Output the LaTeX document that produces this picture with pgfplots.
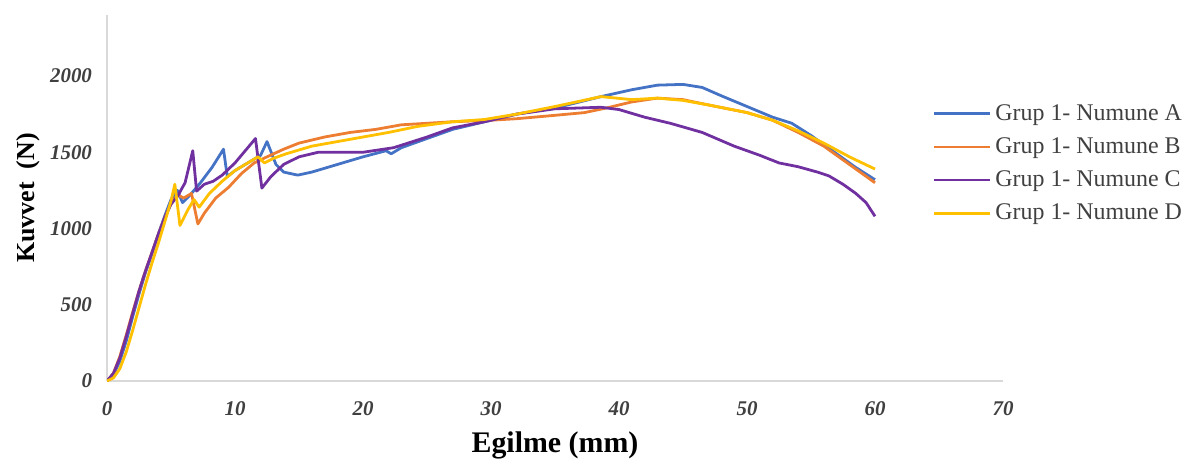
\documentclass[border=0pt]{standalone}
\usepackage{fontspec}
\setmainfont{Liberation Serif}
\usepackage{pgfplots}
\pgfplotsset{compat=1.18}
\definecolor{serA}{HTML}{4472C4}
\definecolor{serB}{HTML}{ED7D31}
\definecolor{serC}{HTML}{7030A0}
\definecolor{serD}{HTML}{FFC000}
\definecolor{axgray}{HTML}{D9D9D9}
\definecolor{txtgray}{HTML}{404040}

\begin{document}
\begin{tikzpicture}
\begin{axis}[
  scale only axis, width=448bp, height=183bp,
  xmin=0, xmax=70, ymin=0, ymax=2400,
  xtick={0,10,...,70}, ytick={0,500,...,2000},
  axis x line=bottom, axis y line=left,
  axis line style={axgray, line width=0.8pt, -},
  major tick length=0pt,
  /pgf/number format/assume math mode=true,
  /pgf/number format/set thousands separator={},
  ticklabel style={font=\fontsize{10.5}{12}\selectfont\bfseries\itshape, text=txtgray},
  xticklabel style={yshift=-7bp},
  yticklabel style={xshift=-4bp},
  xlabel={Egilme (mm)}, ylabel={Kuvvet\ \ (N)},
  xlabel style={font=\fontsize{15}{17}\selectfont\bfseries, yshift=-1bp},
  ylabel style={font=\fontsize{13}{15}\selectfont\bfseries, yshift=-2bp},
  legend cell align=left,
  legend style={draw=none, fill=none, at={(axis description cs:0.921,0.768)}, anchor=north west,
    font=\fontsize{12}{13}\selectfont, text=txtgray, row sep=3.2bp, inner sep=0pt},
  legend image code/.code={\draw[#1, line width=1.4pt] (0pt,0pt) -- (24.5bp,0pt);
    \path (0pt,0pt) -- (28bp,0pt);},
  every axis plot/.append style={line width=1.4pt, line join=round},
]
\addplot[serA] coordinates {
(0,0) (0.5,40) (1,130) (1.5,260) (2,420) (2.5,570) (3,710) (3.5,830) (4,960) (4.5,1080)
(5,1190) (5.5,1250) (5.9,1170) (6.5,1220) (7.3,1300) (8.2,1400) (9.1,1520) (9.4,1340)
(10,1380) (11,1430) (12,1480) (12.5,1570) (13.2,1420) (13.8,1370) (14.9,1350) (16,1370)
(18,1420) (20,1470) (21.8,1510) (22.2,1490) (23,1530) (25,1590) (27,1650) (29.5,1700)
(32,1750) (35,1790) (38.6,1865) (41,1910) (43,1940) (45,1945) (46.5,1925) (48,1870)
(50,1800) (52,1730) (53.5,1690) (55,1610) (57,1490) (58.5,1400) (60,1320)};
\addplot[serB] coordinates {
(0,0) (0.5,50) (1,160) (1.5,300) (2,450) (2.5,590) (3,720) (3.5,840) (4,960) (4.5,1070)
(5,1160) (5.5,1220) (6,1200) (6.6,1230) (7.1,1030) (7.6,1100) (8.5,1200) (9.5,1270)
(10.5,1360) (11.5,1430) (12.5,1470) (13.8,1520) (15,1560) (17,1600) (19,1630) (21,1650)
(23,1680) (25,1690) (27,1700) (30,1710) (32,1720) (34.7,1740) (37.3,1760) (39,1790)
(41,1830) (43,1855) (45,1845) (47,1810) (50,1760) (52,1710) (54,1630) (56,1540)
(58,1420) (60,1300)};
\addplot[serC] coordinates {
(0,0) (0.5,50) (1,150) (1.5,290) (2,440) (2.5,590) (3,720) (3.5,840) (4,960) (4.5,1070)
(5,1160) (5.5,1210) (6.1,1300) (6.7,1510) (7.0,1245) (7.6,1290) (8.3,1310) (9,1350)
(10,1430) (11,1530) (11.6,1590) (12.1,1265) (12.8,1340) (13.8,1420) (15,1470) (16.5,1500)
(18,1500) (20,1500) (22.4,1530) (25,1600) (27,1660) (29.5,1700) (32,1750) (35,1785)
(38.6,1795) (40,1780) (42,1730) (44,1690) (46.5,1630) (49,1540) (51,1480) (52.5,1430)
(54,1405) (55.5,1370) (56.4,1345) (57.5,1290) (58.5,1230) (59.3,1170) (60,1080)};
\addplot[serD] coordinates {
(0,0) (0.5,20) (1,80) (1.5,190) (2,330) (2.5,480) (3,630) (3.5,770) (4,900) (4.5,1040)
(5,1180) (5.3,1290) (5.7,1020) (6.3,1120) (6.8,1190) (7.2,1140) (8,1230) (9,1310)
(10,1380) (11,1430) (11.8,1470) (12.3,1430) (13,1460) (14,1490) (16,1540) (18,1570)
(20,1600) (22,1630) (24.3,1670) (27,1700) (29.5,1715) (32,1750) (35,1800) (38.6,1865)
(41,1845) (43,1855) (45,1840) (47,1810) (50,1760) (52,1710) (54,1640) (56,1560)
(58,1470) (60,1390)};
\legend{Grup 1- Numune A, Grup 1- Numune B, Grup 1- Numune C, Grup 1- Numune D}
\coordinate (o) at (rel axis cs:0,0);
\end{axis}
\path ([shift={(-53.5bp,190.5bp)}]o) rectangle ([shift={(546bp,-40bp)}]o);
\end{tikzpicture}
\end{document}
